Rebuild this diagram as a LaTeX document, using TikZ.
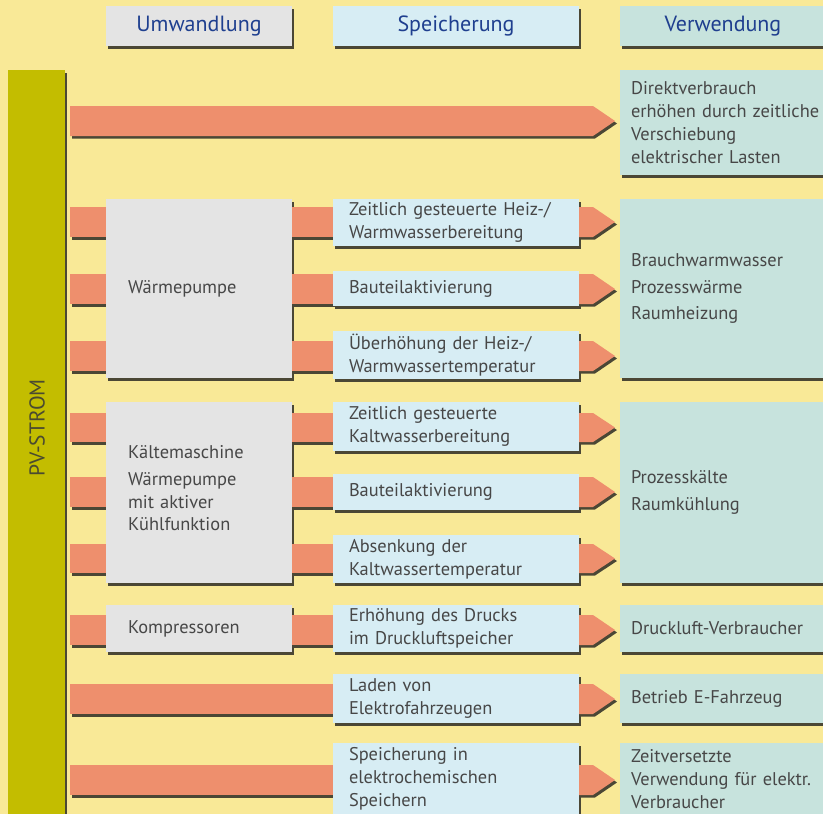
\documentclass[tikz,border=0pt]{standalone}
\usepackage{fontspec}
\setmainfont{PT Sans}
\usetikzlibrary{shadows}
\definecolor{bgc}{HTML}{F9E997}
\definecolor{pvc}{HTML}{C3BD00}
\definecolor{arrc}{HTML}{EE8F6D}
\definecolor{greyc}{HTML}{E4E4E4}
\definecolor{bluec}{HTML}{D7EDF4}
\definecolor{tealc}{HTML}{C7E3DD}
\definecolor{shadc}{HTML}{4B4735}
\definecolor{txtc}{HTML}{474747}
\definecolor{hdrc}{HTML}{1F3F8F}
\definecolor{pvtxt}{HTML}{4A4A30}
\newcommand\bodyfont{\fontsize{18.4}{22.8}\selectfont}
\newcommand\hdrfont{\fontsize{22}{26}\selectfont}
\newcommand\pvfont{\fontsize{21.5}{26}\selectfont}
\begin{document}
\begin{tikzpicture}[x=1pt,y=-1pt,
  shd/.style={drop shadow={shadow xshift=2.2pt,shadow yshift=-2.5pt,opacity=1,fill=shadc}},
  box/.style={shd,anchor=north west,inner ysep=0pt,outer sep=0pt,align=left,font=\bodyfont,text=txtc},
  greybox/.style={box,fill=greyc,inner xsep=22pt,text width=142pt},
  bluebox/.style={box,fill=bluec,inner xsep=16pt,text width=214pt},
  tealbox/.style={box,fill=tealc,inner xsep=11pt,text width=210pt},
  hdrbox/.style={shd,anchor=north west,inner sep=0pt,outer sep=0pt,minimum height=40pt,font=\hdrfont,text=hdrc},
  arrowfill/.style={fill=arrc,preaction={fill=shadc,transform canvas={shift={(2pt,-2.5pt)}}}}
]
\useasboundingbox (0,0) rectangle (823,814);
\fill[bgc] (0,0) rectangle (823,814);

% headers
\node[hdrbox,fill=greyc,minimum width=186pt] (h1) at (106,6) {Umwandlung};
\node[hdrbox,fill=bluec,minimum width=246pt] (h2) at (333,6) {Speicherung};
\node[hdrbox,fill=tealc,minimum width=206pt] (h3) at (620,6) {Verwendung};

% PV bar
\node[shd,anchor=north west,fill=pvc,inner sep=0pt,outer sep=0pt,minimum width=57pt,minimum height=760pt] (pv) at (8,70) {};
\node[rotate=90,font=\pvfont,text=pvtxt] (pvlabel) at (37,428) {PV-STROM};

% teal boxes (Verwendung)
\node[tealbox,minimum height=105pt] (v1) at (620,70) {Direktverbrauch\\erhöhen durch zeitliche\\Verschiebung\\elektrischer Lasten};
\node[tealbox,minimum height=179pt] (v2) at (620,199) {Brauchwarmwasser\\[4pt]Prozesswärme\\[4pt]Raumheizung};
\node[tealbox,minimum height=181pt] (v3) at (620,402) {Prozesskälte\\[4pt]Raumkühlung};
\node[tealbox,minimum height=47pt] (v4) at (620,605) {Druckluft-Verbraucher};
\node[tealbox,minimum height=49pt] (v5) at (620,674) {Betrieb E-Fahrzeug};
\node[tealbox,minimum height=72pt] (v6) at (620,743) {Zeitversetzte\\Verwendung für elektr.\\Verbraucher};

% coordinates for box positions
\coordinate (gx) at (106,0);
\coordinate (bx) at (333,0);

% long arrow row 1
\fill[arrowfill] ([xshift=5pt]pv.east |- 0,106) -- ([xshift=-27pt]v1.west |- 0,106) -- ([xshift=-5pt]v1.west |- 0,121) -- ([xshift=-27pt]v1.west |- 0,136) -- ([xshift=5pt]pv.east |- 0,136) -- cycle;

% left stubs and long arrows (drawn before boxes)
\foreach \ya/\yb in {207/237,274/304,341/371,413/442,477/507,544/573,615/645}
  \fill[arrowfill] ([xshift=5pt]pv.east |- 0,\ya) rectangle (gx |- 0,\yb);
\foreach \ya/\yb in {684/714,765/795}
  \fill[arrowfill] ([xshift=5pt]pv.east |- 0,\ya) rectangle (bx |- 0,\yb);

% grey boxes (Umwandlung)
\node[greybox,minimum height=179pt] (g1) at (106,199) {Wärmepumpe};
\node[greybox,minimum height=181pt] (g2) at (106,402) {Kältemaschine\\[4pt]Wärmepumpe\\mit aktiver\\Kühlfunktion\\[-14pt]\mbox{}};
\node[greybox,minimum height=47pt] (g3) at (106,605) {Kompressoren};

% right stubs
\foreach \g/\ya/\yb in {g1/207/237,g1/274/304,g1/341/371,g2/413/442,g2/477/507,g2/544/573,g3/615/645}
  \fill[arrowfill] (\g.east |- 0,\ya) rectangle (bx |- 0,\yb);

% blue boxes (Speicherung)
\node[bluebox,minimum height=47pt] (b1) at (333,199) {Zeitlich gesteuerte Heiz-/\\Warmwasserbereitung};
\node[bluebox,minimum height=35pt] (b2) at (333,271) {Bauteilaktivierung};
\node[bluebox,minimum height=48pt] (b3) at (333,331) {Überhöhung der Heiz-/\\Warmwassertemperatur};
\node[bluebox,minimum height=49pt] (b4) at (333,402) {Zeitlich gesteuerte\\Kaltwasserbereitung};
\node[bluebox,minimum height=36pt] (b5) at (333,474) {Bauteilaktivierung};
\node[bluebox,minimum height=48pt] (b6) at (333,535) {Absenkung der\\Kaltwassertemperatur};
\node[bluebox,minimum height=47pt] (b7) at (333,605) {Erhöhung des Drucks\\im Druckluftspeicher};
\node[bluebox,minimum height=49pt] (b8) at (333,674) {Laden von\\Elektrofahrzeugen};
\node[bluebox,minimum height=72pt] (b9) at (333,743) {Speicherung in\\elektrochemischen\\Speichern};

% arrow heads
\foreach \b/\v/\ya/\yb in {b1/v2/207/237,b2/v2/274/304,b3/v2/341/371,b4/v3/413/442,b5/v3/477/507,b6/v3/544/573,b7/v4/615/645,b8/v5/684/714,b9/v6/765/795}
  \fill[arrowfill] (\b.east |- 0,\ya) -- ([xshift=-27pt]\v.west |- 0,\ya) -- ([xshift=-5pt]\v.west |- 0,{(\ya+\yb)/2}) -- ([xshift=-27pt]\v.west |- 0,\yb) -- (\b.east |- 0,\yb) -- cycle;
\end{tikzpicture}
\end{document}
